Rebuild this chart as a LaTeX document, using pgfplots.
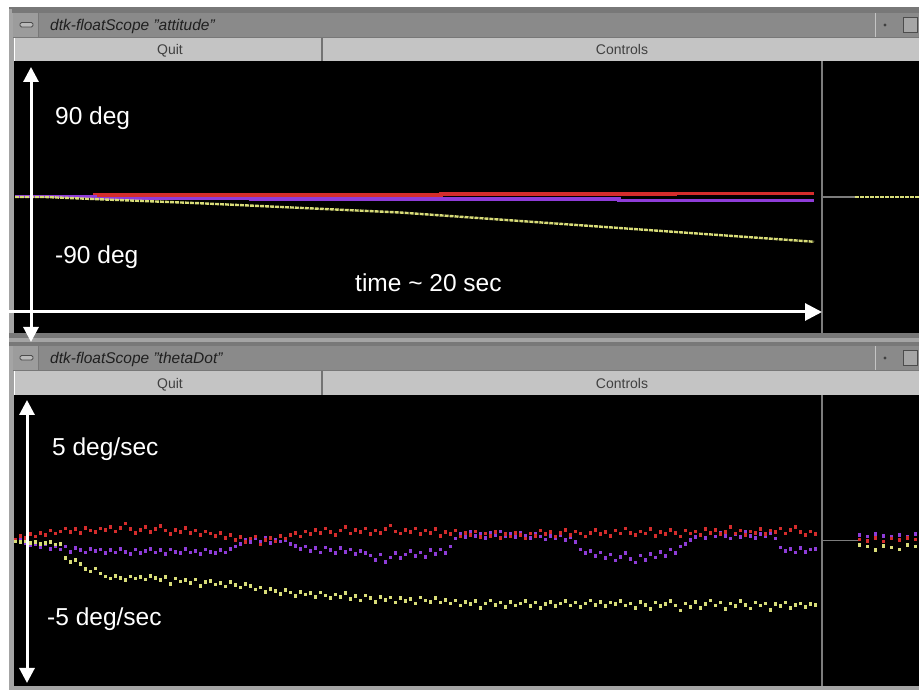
\documentclass[border=0pt]{standalone}
\usepackage{pgfplots}
\pgfplotsset{compat=1.18}
\usepackage{pgfplotstable}
\usetikzlibrary{arrows.meta}
\usepackage{fontspec}
\setmainfont{Liberation Sans}
\definecolor{tbar}{HTML}{8A8A8A}
\definecolor{tbarL}{HTML}{9C9C9C}
\definecolor{btn}{HTML}{C4C4C4}
\definecolor{frm}{HTML}{787878}
\definecolor{frmL}{HTML}{A4A4A4}
\definecolor{trred}{HTML}{D42C2C}
\definecolor{trpur}{HTML}{8E3CD8}
\definecolor{tryel}{HTML}{D8DC78}
\definecolor{divg}{HTML}{7C7C7C}

% bottom scope: thetaDot (deg/sec) vs time (sec)
\pgfplotstableread{
t r p y
0.000 0.10 0.05 -0.05
0.125 0.35 0.20 -0.10
0.250 0.20 -0.15 -0.05
0.375 0.45 -0.30 -0.15
0.500 0.30 -0.25 -0.10
0.625 0.55 -0.45 -0.20
0.750 0.40 -0.20 -0.15
0.875 0.70 -0.55 -0.10
1.000 0.50 -0.35 -0.25
1.125 0.65 -0.60 -0.20
1.250 0.85 -0.40 -1.20
1.375 0.60 -0.75 -1.45
1.500 0.80 -0.50 -1.30
1.625 0.55 -0.65 -1.60
1.750 0.90 -0.80 -1.95
1.875 0.70 -0.55 -2.10
2.000 0.60 -0.70 -1.90
2.125 0.85 -0.60 -2.25
2.250 0.75 -0.85 -2.45
2.375 0.95 -0.65 -2.60
2.500 0.65 -0.80 -2.40
2.625 0.90 -0.55 -2.55
2.750 1.20 -0.75 -2.70
2.875 0.80 -0.90 -2.45
3.000 0.55 -0.60 -2.60
3.125 0.75 -0.85 -2.50
3.250 0.95 -0.70 -2.65
3.375 0.60 -0.55 -2.40
3.500 0.80 -0.80 -2.55
3.625 1.00 -0.65 -2.70
3.750 0.70 -0.90 -2.50
3.875 0.45 -0.60 -2.95
4.000 0.75 -0.75 -2.60
4.125 0.60 -0.85 -2.80
4.250 0.90 -0.55 -2.70
4.375 0.55 -0.80 -2.90
4.500 0.70 -0.70 -2.65
4.625 0.40 -0.90 -3.10
4.750 0.65 -0.60 -2.85
4.875 0.50 -0.75 -2.75
5.000 0.35 -0.85 -3.00
5.125 0.55 -0.65 -2.90
5.250 0.20 -0.80 -3.15
5.375 0.40 -0.55 -2.85
5.500 0.05 -0.40 -3.05
5.625 0.25 -0.20 -3.20
5.750 -0.10 0.05 -2.95
5.875 0.15 -0.10 -3.10
6.000 0.30 0.15 -3.35
6.125 -0.25 -0.05 -3.20
6.250 0.05 0.20 -3.50
6.375 0.20 -0.15 -3.30
6.500 -0.05 0.10 -3.45
6.625 0.35 -0.05 -3.65
6.750 0.15 0.05 -3.40
6.875 0.40 -0.20 -3.55
7.000 0.55 -0.35 -3.80
7.125 0.30 -0.55 -3.50
7.250 0.65 -0.40 -3.70
7.375 0.45 -0.70 -3.60
7.500 0.75 -0.50 -3.85
7.625 0.55 -0.80 -3.55
7.750 0.85 -0.45 -3.75
7.875 0.60 -0.65 -3.95
8.000 0.40 -0.85 -3.70
8.125 0.70 -0.50 -3.85
8.250 0.95 -0.75 -3.60
8.375 0.50 -0.60 -4.00
8.500 0.75 -0.90 -3.80
8.625 0.60 -0.70 -4.10
8.750 0.85 -0.85 -3.75
8.875 0.45 -1.00 -3.95
9.000 0.70 -1.30 -4.20
9.125 0.55 -0.95 -3.85
9.250 0.80 -1.45 -4.05
9.375 1.05 -1.15 -3.90
9.500 0.65 -0.85 -4.25
9.625 0.50 -1.20 -3.95
9.750 0.75 -0.95 -4.15
9.875 0.60 -0.70 -4.00
10.000 0.85 -1.05 -4.30
10.125 0.45 -0.80 -3.90
10.250 0.70 -1.10 -4.10
10.375 0.55 -0.65 -4.20
10.500 0.80 -0.90 -3.95
10.625 0.35 -0.60 -4.25
10.750 0.60 -0.85 -4.05
10.875 0.45 -0.40 -4.30
11.000 0.70 0.15 -4.10
11.125 0.30 0.45 -4.45
11.250 0.55 0.25 -4.20
11.375 0.40 0.60 -4.35
11.500 0.65 0.35 -4.15
11.625 0.25 0.50 -4.60
11.750 0.50 0.20 -4.30
11.875 0.35 0.55 -4.10
12.000 0.60 0.40 -4.40
12.125 0.20 0.65 -4.25
12.250 0.45 0.30 -4.55
12.375 0.30 0.45 -4.20
12.500 0.55 0.25 -4.45
12.625 0.40 0.55 -4.30
12.750 0.15 0.35 -4.15
12.875 0.50 0.20 -4.50
13.000 0.35 0.45 -4.25
13.125 0.70 0.30 -4.60
13.250 0.45 0.10 -4.35
13.375 0.60 0.35 -4.20
13.500 0.30 0.15 -4.50
13.625 0.55 0.40 -4.30
13.750 0.75 0.05 -4.15
13.875 0.40 0.25 -4.45
14.000 0.65 -0.10 -4.25
14.125 0.50 -0.60 -4.55
14.250 0.30 -0.85 -4.30
14.375 0.55 -0.70 -4.10
14.500 0.75 -1.05 -4.40
14.625 0.45 -0.80 -4.20
14.750 0.60 -1.20 -4.50
14.875 0.35 -0.95 -4.25
15.000 0.70 -1.35 -4.35
15.125 0.50 -1.10 -4.15
15.250 0.85 -0.85 -4.45
15.375 0.55 -1.25 -4.30
15.500 0.40 -1.50 -4.60
15.625 0.65 -1.00 -4.20
15.750 0.50 -1.30 -4.40
15.875 0.80 -0.90 -4.70
16.000 0.35 -1.15 -4.25
16.125 0.60 -0.75 -4.50
16.250 0.45 -1.05 -4.35
16.375 0.75 -0.60 -4.15
16.500 0.55 -0.85 -4.45
16.625 0.30 -0.40 -4.80
16.750 0.70 -0.20 -4.30
16.875 0.50 0.05 -4.55
17.000 0.65 0.25 -4.20
17.125 0.40 0.40 -4.60
17.250 0.80 0.20 -4.35
17.375 0.55 0.50 -4.10
17.500 0.75 0.30 -4.45
17.625 0.45 0.55 -4.25
17.750 0.60 0.35 -4.70
17.875 0.95 0.15 -4.30
18.000 0.50 0.45 -4.50
18.125 0.70 0.25 -4.15
18.250 0.40 0.60 -4.40
18.375 0.65 0.35 -4.65
18.500 0.55 0.20 -4.25
18.625 0.80 0.45 -4.45
18.750 0.45 0.30 -4.30
18.875 0.70 0.50 -4.75
19.000 0.60 0.15 -4.35
19.125 0.85 -0.45 -4.50
19.250 0.50 -0.70 -4.25
19.375 0.75 -0.55 -4.60
19.500 0.95 -0.80 -4.40
19.625 0.60 -0.50 -4.30
19.750 0.40 -0.75 -4.55
19.875 0.65 -0.60 -4.35
20.000 0.45 -0.55 -4.40
}\rates

\pgfplotstableread{
t r p y
21.10 0.10 0.40 -0.30
21.30 0.00 0.30 -0.40
21.50 0.20 0.45 -0.65
21.70 -0.05 0.35 -0.35
21.90 0.15 0.25 -0.45
22.10 0.05 0.40 -0.60
22.30 0.20 0.30 -0.30
22.50 0.10 0.45 -0.40
}\ratesright

\newcommand{\titlefont}{\fontsize{15.5}{16}\selectfont\itshape}
\newcommand{\btnfont}{\fontsize{14}{15}\selectfont}
\newcommand{\bigfont}{\fontsize{24.5}{25}\selectfont}

\pgfplotsset{scopeaxis/.style={
  scale only axis, width=905pt, axis lines=none,
  xtick=\empty, ytick=\empty, xmin=-0.025, xmax=22.6,
  clip=true}}

\begin{document}
\begin{tikzpicture}[x=1pt,y=1pt]
\fill[white] (0,0) rectangle (919,690);
% left frame strip
\fill[frmL] (9,0) rectangle (14,682);
\fill[frm] (9,681) rectangle (919,683);
% ---------- top window chrome ----------
\fill[frm] (12,677) rectangle (919,682);
\fill[tbar] (13,653) rectangle (919,677);
\fill[tbarL] (13,653) rectangle (38,677);
\draw[frm,line width=1pt] (38.5,653) -- (38.5,677);
\filldraw[fill=tbarL!70!white,draw=black!70,line width=0.8pt,rounded corners=1.5pt] (20,663) rectangle (33,667.5);
\draw[tbarL!60!white,line width=1pt] (875,653) -- (875,677);
\fill[black!75] (885,665) circle (1.6);
\filldraw[fill=tbarL!90!white,draw=black!70,line width=1pt] (903,657) rectangle (917,672);
\node[anchor=base west,inner sep=0,text=black!88,font=\titlefont] at (50,659) {dtk-floatScope "attitude"};
\fill[frm] (13,651.5) rectangle (919,653);
\fill[btn] (15,629) rectangle (321,651.5);
\fill[btn] (323,629) rectangle (919,651.5);
\fill[black!55] (321,629) rectangle (323,651.5);
\node[anchor=base,inner sep=0,text=black!75,font=\btnfont] at (170,635) {Quit};
\node[anchor=base,inner sep=0,text=black!75,font=\btnfont] at (622,635) {Controls};
\fill[black] (14,357) rectangle (919,629);
% separator
\fill[frm] (9,344) rectangle (919,357);
\fill[frmL] (9,348) rectangle (919,352);
% ---------- bottom window chrome ----------
\fill[tbar] (13,320) rectangle (919,344);
\fill[tbarL] (13,320) rectangle (38,344);
\draw[frm,line width=1pt] (38.5,320) -- (38.5,344);
\filldraw[fill=tbarL!70!white,draw=black!70,line width=0.8pt,rounded corners=1.5pt] (20,330) rectangle (33,334.5);
\draw[tbarL!60!white,line width=1pt] (875,320) -- (875,344);
\fill[black!75] (885,332) circle (1.6);
\filldraw[fill=tbarL!90!white,draw=black!70,line width=1pt] (903,324) rectangle (917,339);
\node[anchor=base west,inner sep=0,text=black!88,font=\titlefont] at (50,326) {dtk-floatScope "thetaDot"};
\fill[frm] (13,318.5) rectangle (919,320);
\fill[btn] (15,295) rectangle (321,318.5);
\fill[btn] (323,295) rectangle (919,318.5);
\fill[black!55] (321,295) rectangle (323,318.5);
\node[anchor=base,inner sep=0,text=black!75,font=\btnfont] at (170,301) {Quit};
\node[anchor=base,inner sep=0,text=black!75,font=\btnfont] at (622,301) {Controls};
\fill[black] (14,4) rectangle (919,295);
\fill[frmL] (9,0) rectangle (919,4);

% ---------- top scope: attitude (deg) ----------
\begin{axis}[scopeaxis, at={(14pt,357pt)}, anchor=south west,
  height=272pt, ymin=-100, ymax=100]
\addplot[divg, line width=1.5pt] coordinates {(20.175,-100) (20.175,100)};
\addplot[trred, line width=3.6pt] coordinates {(0,0.3) (2.0,0.3) (2.0,1.5) (10.65,1.5) (10.65,2.3) (16.5,2.3) (16.5,2.7) (19.975,2.7)};
\addplot[trpur, line width=3.4pt] coordinates {(0,0.2) (2.0,0.2) (2.0,-0.9) (5.9,-0.9) (5.9,-1.6) (15.1,-1.6) (15.1,-2.6) (19.975,-2.6)};
\addplot[tryel, line width=2.4pt, dash pattern=on 4pt off 1pt] coordinates {(0,0) (0.75,0) (2.125,-1.7) (4.625,-4.6) (9.625,-11.4) (14.625,-21.8) (19.975,-32.9)};
\addplot[divg, line width=1.2pt] coordinates {(20.2,0) (21.0,0)};
\addplot[tryel, line width=2.4pt, dash pattern=on 4pt off 1pt] coordinates {(21.0,0) (22.6,0)};
\end{axis}

% ---------- bottom scope: thetaDot (deg/sec) ----------
\begin{axis}[scopeaxis, at={(14pt,4pt)}, anchor=south west,
  height=291pt, ymin=-10, ymax=10]
\addplot[divg, line width=1.5pt] coordinates {(20.175,-10) (20.175,10)};
\addplot[divg, line width=1.2pt] coordinates {(20.2,0) (21.075,0)};
\addplot[only marks, mark=square*, mark size=1.3pt, trpur] table[x=t,y=p] {\rates};
\addplot[only marks, mark=square*, mark size=1.3pt, trred] table[x=t,y=r] {\rates};
\addplot[only marks, mark=square*, mark size=1.3pt, tryel] table[x=t,y=y] {\rates};
\addplot[only marks, mark=square*, mark size=1.3pt, trpur] table[x=t,y=p] {\ratesright};
\addplot[only marks, mark=square*, mark size=1.3pt, trred] table[x=t,y=r] {\ratesright};
\addplot[only marks, mark=square*, mark size=1.3pt, tryel] table[x=t,y=y] {\ratesright};
\end{axis}

% ---------- annotations ----------
\draw[white, line width=3pt, {Triangle[length=15pt,width=15pt]}-{Triangle[length=15pt,width=15pt]}] (31,348) -- (31,623);
\draw[white, line width=3pt, -{Triangle[length=17pt,width=17pt]}] (0,378) -- (822,378);
\draw[white, line width=3pt, {Triangle[length=15pt,width=15pt]}-{Triangle[length=15pt,width=15pt]}] (27,7) -- (27,290);
\node[anchor=base west,inner sep=0,text=white,font=\bigfont] at (55,565) {90 deg};
\node[anchor=base west,inner sep=0,text=white,font=\bigfont] at (55,426) {-90 deg};
\node[anchor=base west,inner sep=0,text=white,font=\bigfont] at (355,398) {time \textasciitilde{} 20 sec};
\node[anchor=base west,inner sep=0,text=white,font=\bigfont] at (52,234) {5 deg/sec};
\node[anchor=base west,inner sep=0,text=white,font=\bigfont] at (47,64) {-5 deg/sec};
\pgfresetboundingbox
\path[use as bounding box] (0,0) rectangle (919,690);
\end{tikzpicture}
\end{document}
